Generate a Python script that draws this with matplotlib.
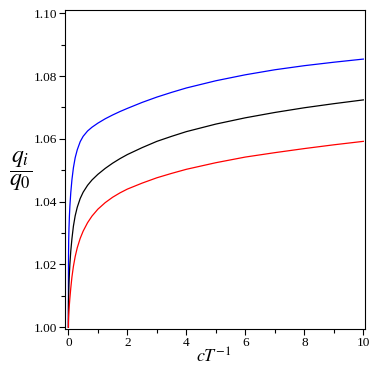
import numpy as np
import matplotlib
matplotlib.use("Agg")
import matplotlib.pyplot as plt
from matplotlib.ticker import MultipleLocator

# values (q_i/q_0 against cT^-1)
x_blue = [0, 0.002, 0.005, 0.01, 0.02, 0.035, 0.05, 0.08, 0.12, 0.17, 0.23, 0.3,
          0.4, 0.5, 0.65, 0.8, 1.0, 1.25, 1.5, 1.75, 2.0, 2.5, 3.0, 3.5, 4.0,
          5.0, 6.0, 7.0, 8.0, 9.0, 10.0]
y_blue = [1.0, 1.018, 1.0236, 1.0276, 1.0316, 1.0356, 1.0385, 1.0428, 1.0470,
          1.0508, 1.0540, 1.0565, 1.0591, 1.0608, 1.0625, 1.0637, 1.0650, 1.0664,
          1.0676, 1.0687, 1.0697, 1.0716, 1.0733, 1.0748, 1.0762, 1.0785, 1.0804,
          1.0820, 1.0833, 1.0844, 1.0854]

x_black = [0, 0.002, 0.005, 0.01, 0.02, 0.035, 0.05, 0.08, 0.12, 0.17, 0.23, 0.3,
           0.4, 0.5, 0.65, 0.8, 1.0, 1.25, 1.5, 1.75, 2.0, 2.5, 3.0, 3.5, 4.0,
           5.0, 6.0, 7.0, 8.0, 9.0, 10.0]
y_black = [1.0, 1.0056, 1.0084, 1.0108, 1.0140, 1.0174, 1.0200, 1.0242, 1.0282,
           1.0322, 1.0355, 1.0382, 1.0410, 1.0430, 1.0452, 1.0469, 1.0487, 1.0506,
           1.05225, 1.0537, 1.0550, 1.0572, 1.0592, 1.0608, 1.0623, 1.0647, 1.0667,
           1.0684, 1.0699, 1.0712, 1.0724]

x_red = [0, 0.002, 0.005, 0.01, 0.02, 0.035, 0.05, 0.08, 0.12, 0.17, 0.23, 0.3,
         0.4, 0.5, 0.65, 0.8, 1.0, 1.25, 1.5, 1.75, 2.0, 2.5, 3.0, 3.5, 4.0,
         5.0, 6.0, 7.0, 8.0, 9.0, 10.0]
y_red = [1.0, 1.0017, 1.0027, 1.0038, 1.0054, 1.0074, 1.0092, 1.0124, 1.0160,
         1.0194, 1.0225, 1.0253, 1.0283, 1.0306, 1.0333, 1.0354, 1.0376, 1.0397,
         1.0414, 1.0428, 1.0440, 1.0459, 1.0476, 1.0490, 1.0503, 1.0524, 1.0542,
         1.0556, 1.0569, 1.0581, 1.0592]

plt.rcParams['mathtext.fontset'] = 'stix'
plt.rcParams['font.family'] = ['Liberation Serif', 'DejaVu Serif']

fig = plt.figure(figsize=(3.74, 3.74), dpi=100)
ax = fig.add_axes([0.175, 0.120, 0.802, 0.853])

ax.plot(x_blue, y_blue, color='#0000ff', lw=0.9)
ax.plot(x_black, y_black, color='black', lw=0.9)
ax.plot(x_red, y_red, color='#ff0000', lw=0.9)

ax.set_xlim(-0.1, 10.07)
ax.set_ylim(0.9994, 1.101)
ax.xaxis.set_major_locator(MultipleLocator(2))
ax.xaxis.set_minor_locator(MultipleLocator(1))
ax.yaxis.set_major_locator(MultipleLocator(0.02))
ax.yaxis.set_minor_locator(MultipleLocator(0.01))
ax.yaxis.set_major_formatter(plt.FormatStrFormatter('%.2f'))
ax.tick_params(which='major', direction='out', length=4, width=0.8, labelsize=9.5, pad=2)
ax.tick_params(which='minor', direction='out', length=3, width=0.8)
for s in ax.spines.values():
    s.set_linewidth(0.8)

fig.text(0.055, 0.542, r'$\dfrac{q_i}{q_0}$', fontsize=17, ha='center', va='center')
fig.text(0.572, 0.045, r'$cT^{-1}$', fontsize=13, ha='center', va='center')

fig.savefig('out.png', dpi=100)
